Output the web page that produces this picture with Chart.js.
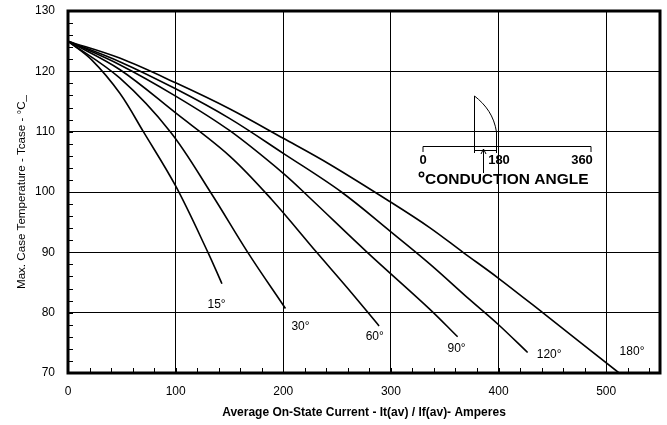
<!DOCTYPE html>
<html>
<head>
<meta charset="utf-8">
<title>Max. Case Temperature vs Average On-State Current</title>
<script src="https://cdn.jsdelivr.net/npm/chart.js@4.4.1/dist/chart.umd.min.js"></script>
<style>
    html, body { margin: 0; padding: 0; background: #fff; }
    #wrap { width: 667px; height: 425px; position: relative; }
</style>
</head>
<body>
<div id="wrap"><canvas id="chart"></canvas></div>
<script>
// Curve data (x = amperes, y = case temperature °C)
const x15  = [0, 22, 48, 70, 100, 130, 143];
const y15  = [125, 121.9, 116.4, 110, 101, 90, 84.8];
const x30  = [0, 48, 95, 133, 167, 202];
const y30  = [125, 118.9, 110, 99.8, 90.0, 80.7];
const x60  = [0, 48, 100, 150, 189, 231, 260, 289];
const y60  = [125, 120.3, 113.1, 106, 98.8, 90, 84, 77.8];
const x90  = [0, 48, 100, 150, 200, 226, 278, 336, 362];
const y90  = [125, 121.1, 115.9, 110.2, 103.1, 98.8, 90, 80.6, 76];
const x120 = [0, 48, 100, 150, 200, 254, 300, 336, 373, 400, 427];
const y120 = [125, 121.6, 117.1, 112.2, 106.4, 100, 93.4, 88.1, 82.2, 78, 73.4];
const x180 = [0, 48, 100, 150, 200, 243, 300, 336, 367, 400, 441, 512];
const y180 = [125, 122.2, 118.1, 113.8, 108.9, 104.6, 98.3, 94.1, 90, 85.7, 80, 70];

const angleNames = ['15°', '30°', '60°', '90°', '120°', '180°'];
const labelX     = [138, 216, 285, 361, 447, 524];
const labelY     = [81.4, 77.6, 76, 74, 73, 73.6];

const xTicks = [0, 100, 200, 300, 400, 500];
const yTicks = [70, 80, 90, 100, 110, 120, 130];

const FONT = '"Liberation Sans", Arial, sans-serif';

function toPoints(xs, ys) {
    return xs.map((x, i) => ({ x, y: ys[i] }));
}

function curve(xs, ys, name) {
    return {
        label: name,
        data: toPoints(xs, ys),
        borderColor: '#000',
        borderWidth: 1.6,
        pointRadius: 0,
        fill: false,
        showLine: true,
        tension: 0.35,
    };
}

// ---------------------------------------------------------------------------
// Decorations: heavy frame, inward minor ticks, curve labels, inset sketch
// ---------------------------------------------------------------------------

const decorPlugin = {
    id: 'decor',
    afterDatasetsDraw(chart) {
        const { ctx, chartArea: a, scales: { x, y } } = chart;
        ctx.save();

        // minor ticks
        ctx.strokeStyle = '#000';
        ctx.lineWidth = 1;
        ctx.beginPath();
        for (let v = 20; v < 550; v += 20) {
            const px = Math.round(x.getPixelForValue(v)) + 0.5;
            ctx.moveTo(px, a.bottom);
            ctx.lineTo(px, a.bottom - 5);
        }
        for (let v = 72; v < 130; v += 2) {
            const py = Math.round(y.getPixelForValue(v)) + 0.5;
            ctx.moveTo(a.left, py);
            ctx.lineTo(a.left + 5, py);
        }
        ctx.stroke();

        // frame
        ctx.lineWidth = 3;
        ctx.strokeRect(a.left, a.top, a.right - a.left, a.bottom - a.top);

        // curve labels
        ctx.fillStyle = '#000';
        ctx.font = '12px ' + FONT;
        ctx.textAlign = 'center';
        ctx.textBaseline = 'middle';
        angleNames.forEach((t, i) => {
            ctx.fillText(t, x.getPixelForValue(labelX[i]), y.getPixelForValue(labelY[i]));
        });

        // inset: conduction angle sketch
        ctx.lineWidth = 1;
        ctx.beginPath();
        ctx.moveTo(423, 152); ctx.lineTo(423, 146.5);
        ctx.lineTo(591, 146.5); ctx.lineTo(591, 152);
        ctx.stroke();

        ctx.beginPath();
        ctx.moveTo(474.5, 153);
        ctx.lineTo(474.5, 96);
        ctx.bezierCurveTo(486, 105, 494, 116, 496.5, 132);
        ctx.lineTo(496.5, 153);
        ctx.moveTo(474.5, 150.5);
        ctx.lineTo(496.5, 150.5);
        ctx.stroke();

        // arrow
        ctx.beginPath();
        ctx.moveTo(483.5, 173);
        ctx.lineTo(483.5, 149);
        ctx.moveTo(481, 154);
        ctx.lineTo(483.5, 149);
        ctx.lineTo(486, 154);
        ctx.stroke();

        ctx.font = 'bold 13px ' + FONT;
        ctx.textBaseline = 'alphabetic';
        ctx.fillText('0', 423, 164);
        ctx.fillText('180', 499, 164);
        ctx.fillText('360', 582, 164);

        ctx.font = 'bold 15.5px ' + FONT;
        ctx.textAlign = 'left';
        ctx.fillText('CONDUCTION ANGLE', 425, 184);

        ctx.lineWidth = 1.5;
        ctx.beginPath();
        ctx.arc(421.5, 174.5, 2.2, 0, Math.PI * 2);
        ctx.stroke();

        ctx.restore();
    },
};

const chart = new Chart(document.getElementById('chart'), {
    type: 'scatter',
    data: {
        datasets: [
            curve(x15, y15, angleNames[0]),
            curve(x30, y30, angleNames[1]),
            curve(x60, y60, angleNames[2]),
            curve(x90, y90, angleNames[3]),
            curve(x120, y120, angleNames[4]),
            curve(x180, y180, angleNames[5]),
        ],
    },
    options: {
        responsive: true,
        maintainAspectRatio: false,
        animation: false,
        layout: { padding: { top: 11, right: 7, bottom: 0, left: 0 } },
        plugins: {
            legend: { display: false },
            tooltip: { enabled: false },
        },
        scales: {
            x: {
                type: 'linear',
                min: 0,
                max: 550,
                afterBuildTicks: s => { s.ticks = xTicks.map(v => ({ value: v })); },
                afterFit: s => { s.height = 52; },
                border: { display: false },
                grid: { color: '#000', lineWidth: 1, drawTicks: false },
                ticks: { color: '#000', padding: 11, font: { family: FONT, size: 12 } },
                title: {
                    display: true,
                    text: 'Average On-State Current - It(av) / If(av)- Amperes',
                    color: '#000',
                    font: { family: FONT, size: 12, weight: 'bold' },
                    padding: { top: 0, bottom: 5 },
                },
            },
            y: {
                type: 'linear',
                min: 70,
                max: 130,
                afterBuildTicks: s => { s.ticks = yTicks.map(v => ({ value: v })); },
                afterFit: s => {
                    s.width = 68;
                    s.paddingTop = 0;
                    s.paddingBottom = 0;
                },
                border: { display: false },
                grid: { color: '#000', lineWidth: 1, drawTicks: false },
                ticks: { color: '#000', padding: 13, font: { family: FONT, size: 12 } },
                title: {
                    display: true,
                    text: 'Max. Case Temperature - Tcase - °C_',
                    color: '#000',
                    font: { family: FONT, size: 11.6 },
                    padding: { top: 15, bottom: 0 },
                },
            },
        },
    },
    plugins: [decorPlugin],
});
</script>
</body>
</html>
